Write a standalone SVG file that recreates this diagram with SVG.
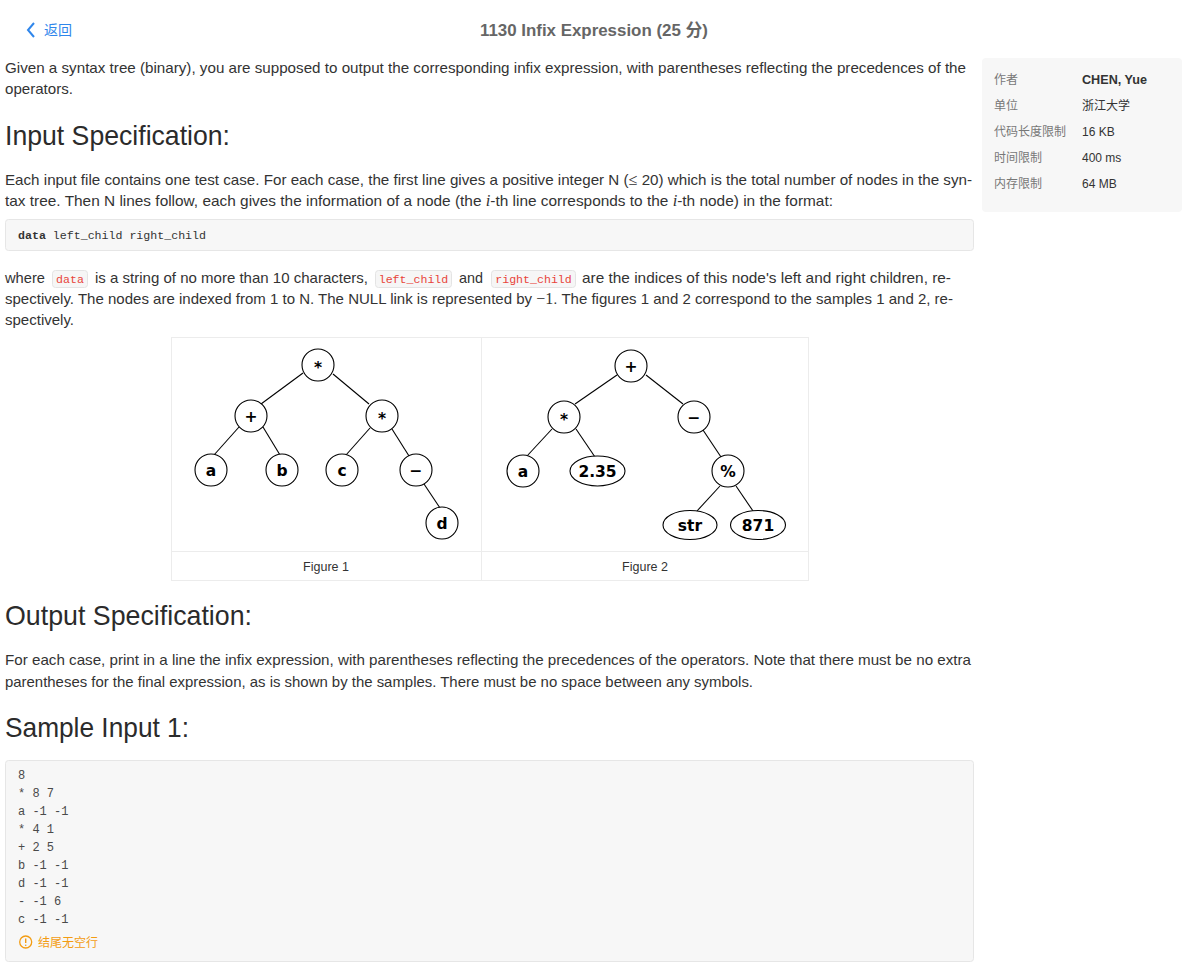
<svg xmlns="http://www.w3.org/2000/svg" width="1184" height="976" viewBox="0 0 1184 976">
<style>
.t{font-family:"Liberation Sans","Noto Sans CJK SC",sans-serif;font-size:15px;fill:#333}
.h{font-family:"Liberation Sans",sans-serif;font-size:28px;fill:#2b2b2b}
.mi{font-family:"Liberation Serif",serif;font-style:italic;font-size:16px}
.ms{font-family:"Liberation Serif",serif;font-size:16px}
.mono{font-family:"Liberation Mono",monospace;font-size:11.6px;fill:#333}
.smp{font-family:"Liberation Mono",monospace;font-size:12px;fill:#4a4a4a}
.ic{fill:#f6f6f6;stroke:#e4e4e4;stroke-width:1}
.ict{font-family:"Liberation Mono",monospace;font-size:11.6px;fill:#e8443a;text-anchor:middle}
.blk{fill:#f7f7f7;stroke:#e6e6e6;stroke-width:1}
.nd{fill:#fff;stroke:#000;stroke-width:1.1}
.nl{font-family:"DejaVu Sans",sans-serif;font-weight:bold;font-size:15.5px;text-anchor:middle;fill:#000}
.edge{stroke:#000;stroke-width:1.1;fill:none}
.sl{font-family:"Liberation Sans","Noto Sans CJK SC",sans-serif;font-size:12px;fill:#777}
.sv{font-family:"Liberation Sans","Noto Sans CJK SC",sans-serif;font-size:12px;fill:#333}
.cap{font-family:"Liberation Sans",sans-serif;font-size:12.5px;fill:#333;text-anchor:middle}
.tb{fill:none;stroke:#ececec;stroke-width:1}
</style>
<rect x="0" y="0" width="1184" height="976" fill="#fff"/>

<!-- header -->
<g id="back">
<polyline points="34,23 28,30 34,37" fill="none" stroke="#2f86eb" stroke-width="2"/>
<text x="44" y="35" font-family="'Noto Sans CJK SC',sans-serif" font-size="14" fill="#2f86eb">返回</text>
</g>
<text id="title" x="594" y="36" text-anchor="middle" font-family="'Liberation Sans','Noto Sans CJK SC',sans-serif" font-size="17" font-weight="bold" fill="#666" textLength="228" lengthAdjust="spacingAndGlyphs">1130 Infix Expression (25 分)</text>

<!-- sidebar -->
<g id="sidebar">
<rect x="982" y="58" width="200" height="154" rx="4" fill="#f7f7f7"/>
<text class="sl" x="994" y="84">作者</text>
<text class="sv" x="1082" y="84" font-weight="bold" textLength="65" lengthAdjust="spacingAndGlyphs">CHEN, Yue</text>
<text class="sl" x="994" y="110">单位</text>
<text class="sv" x="1082" y="110">浙江大学</text>
<text class="sl" x="994" y="136">代码长度限制</text>
<text class="sv" x="1082" y="136">16 KB</text>
<text class="sl" x="994" y="162">时间限制</text>
<text class="sv" x="1082" y="162">400 ms</text>
<text class="sl" x="994" y="188">内存限制</text>
<text class="sv" x="1082" y="188">64 MB</text>
</g>

<!-- intro -->
<text class="t" x="5" y="73" textLength="961" lengthAdjust="spacingAndGlyphs">Given a syntax tree (binary), you are supposed to output the corresponding infix expression, with parentheses reflecting the precedences of the</text>
<text class="t" x="5" y="94" textLength="68" lengthAdjust="spacingAndGlyphs">operators.</text>

<text class="h" x="5" y="145" textLength="225" lengthAdjust="spacingAndGlyphs">Input Specification:</text>

<text class="t" x="5" y="185" textLength="967" lengthAdjust="spacingAndGlyphs">Each input file contains one test case. For each case, the first line gives a positive integer N (<tspan class="ms">≤</tspan> 20) which is the total number of nodes in the syn-</text>
<text class="t" x="5" y="206" textLength="828" lengthAdjust="spacingAndGlyphs">tax tree. Then N lines follow, each gives the information of a node (the <tspan class="mi">i</tspan>-th line corresponds to the <tspan class="mi">i</tspan>-th node) in the format:</text>

<g id="format-block">
<rect class="blk" x="5.5" y="219.5" width="968" height="31" rx="3"/>
<text class="mono" x="18" y="239" textLength="188" lengthAdjust="spacingAndGlyphs"><tspan font-weight="bold">data</tspan> left_child right_child</text>
</g>

<text class="t" x="5" y="283" textLength="40" lengthAdjust="spacingAndGlyphs">where</text>
<rect class="ic" x="52.5" y="270.5" width="35" height="17" rx="3"/>
<text class="ict" x="70" y="283">data</text>
<text class="t" x="95" y="283" textLength="273" lengthAdjust="spacingAndGlyphs">is a string of no more than 10 characters,</text>
<rect class="ic" x="375.5" y="270.5" width="76" height="17" rx="3"/>
<text class="ict" x="413.5" y="283">left_child</text>
<text class="t" x="459" y="283" textLength="24" lengthAdjust="spacingAndGlyphs">and</text>
<rect class="ic" x="491.5" y="270.5" width="84" height="17" rx="3"/>
<text class="ict" x="533.5" y="283">right_child</text>
<text class="t" x="582" y="283" textLength="369" lengthAdjust="spacingAndGlyphs">are the indices of this node's left and right children, re-</text>
<text class="t" x="5" y="304" textLength="948" lengthAdjust="spacingAndGlyphs">spectively. The nodes are indexed from 1 to N. The NULL link is represented by <tspan class="ms">−1</tspan>. The figures 1 and 2 correspond to the samples 1 and 2, re-</text>
<text class="t" x="5" y="325" textLength="69" lengthAdjust="spacingAndGlyphs">spectively.</text>

<!-- figure table -->
<g id="figure-table">
<rect class="tb" x="171.5" y="337.5" width="637" height="243"/>
<line class="tb" x1="481.5" y1="337.5" x2="481.5" y2="580.5"/>
<line class="tb" x1="171.5" y1="551.5" x2="808.5" y2="551.5"/>
<text class="cap" x="326" y="571">Figure 1</text>
<text class="cap" x="645" y="571">Figure 2</text>
</g>

<g id="connectors">
<line class="edge" x1="303" y1="373" x2="261" y2="404"/>
<line class="edge" x1="333" y1="374" x2="369" y2="404"/>
<line class="edge" x1="239" y1="427" x2="214" y2="455"/>
<line class="edge" x1="263" y1="427" x2="280" y2="455"/>
<line class="edge" x1="370" y1="428" x2="346" y2="455"/>
<line class="edge" x1="392" y1="429" x2="409" y2="456"/>
<line class="edge" x1="424" y1="484" x2="440" y2="508"/>
<line class="edge" x1="617" y1="375" x2="575" y2="404"/>
<line class="edge" x1="646" y1="375" x2="683" y2="404"/>
<line class="edge" x1="552" y1="429" x2="527" y2="456"/>
<line class="edge" x1="576" y1="429" x2="595" y2="457"/>
<line class="edge" x1="703" y1="430" x2="721" y2="457"/>
<line class="edge" x1="720" y1="486" x2="697" y2="511"/>
<line class="edge" x1="736" y1="486" x2="753" y2="511"/>
</g>

<!-- Figure 1 nodes -->
<g id="f1-root"><circle class="nd" cx="318" cy="365" r="16"/><text class="nl" x="318" y="373">*</text></g>
<g id="f1-plus"><circle class="nd" cx="251" cy="416" r="16"/><text class="nl" x="251" y="421.5">+</text></g>
<g id="f1-star"><circle class="nd" cx="382" cy="416" r="16"/><text class="nl" x="382" y="424">*</text></g>
<g id="f1-a"><circle class="nd" cx="211" cy="470" r="16"/><text class="nl" x="211" y="475.5">a</text></g>
<g id="f1-b"><circle class="nd" cx="282" cy="470" r="16"/><text class="nl" x="282" y="475.5">b</text></g>
<g id="f1-c"><circle class="nd" cx="342" cy="470" r="16"/><text class="nl" x="342" y="475.5">c</text></g>
<g id="f1-minus"><circle class="nd" cx="416" cy="470" r="16"/><text class="nl" x="416" y="475.5">−</text></g>
<g id="f1-d"><circle class="nd" cx="442" cy="523" r="16"/><text class="nl" x="442" y="528.5">d</text></g>

<!-- Figure 2 nodes -->
<g id="f2-plus"><circle class="nd" cx="631" cy="366" r="16"/><text class="nl" x="631" y="371.5">+</text></g>
<g id="f2-star"><circle class="nd" cx="564" cy="417" r="16"/><text class="nl" x="564" y="425">*</text></g>
<g id="f2-minus"><circle class="nd" cx="694" cy="417" r="16"/><text class="nl" x="694" y="422.5">−</text></g>
<g id="f2-a"><circle class="nd" cx="523" cy="471" r="16"/><text class="nl" x="523" y="476.5">a</text></g>
<g id="f2-235"><ellipse class="nd" cx="597.5" cy="471" rx="27.5" ry="15"/><text class="nl" x="597.5" y="476.5">2.35</text></g>
<g id="f2-mod"><circle class="nd" cx="728" cy="471" r="16"/><text class="nl" x="728" y="476.5">%</text></g>
<g id="f2-str"><ellipse class="nd" cx="690" cy="525" rx="27" ry="14.5"/><text class="nl" x="690" y="530.5">str</text></g>
<g id="f2-871"><ellipse class="nd" cx="758" cy="525" rx="27.5" ry="14.5"/><text class="nl" x="758" y="530.5">871</text></g>

<!-- output spec -->
<text class="h" x="5" y="625" textLength="247" lengthAdjust="spacingAndGlyphs">Output Specification:</text>
<text class="t" x="5" y="665" textLength="966" lengthAdjust="spacingAndGlyphs">For each case, print in a line the infix expression, with parentheses reflecting the precedences of the operators. Note that there must be no extra</text>
<text class="t" x="5" y="687" textLength="748" lengthAdjust="spacingAndGlyphs">parentheses for the final expression, as is shown by the samples. There must be no space between any symbols.</text>

<text class="h" x="5" y="737" textLength="184" lengthAdjust="spacingAndGlyphs">Sample Input 1:</text>

<g id="sample-input">
<rect class="blk" x="5.5" y="760.5" width="968" height="201" rx="3"/>
<text class="smp" x="18" y="779">8</text>
<text class="smp" x="18" y="797">* 8 7</text>
<text class="smp" x="18" y="815">a -1 -1</text>
<text class="smp" x="18" y="833">* 4 1</text>
<text class="smp" x="18" y="851">+ 2 5</text>
<text class="smp" x="18" y="869">b -1 -1</text>
<text class="smp" x="18" y="887">d -1 -1</text>
<text class="smp" x="18" y="905">- -1 6</text>
<text class="smp" x="18" y="923">c -1 -1</text>
<circle cx="25.7" cy="942" r="6" fill="none" stroke="#f39c12" stroke-width="1.3"/>
<line x1="25.7" y1="938.5" x2="25.7" y2="943" stroke="#f39c12" stroke-width="1.4"/>
<circle cx="25.7" cy="945.2" r="0.8" fill="#f39c12"/>
<text x="38" y="946.5" font-family="'Noto Sans CJK SC',sans-serif" font-size="12" fill="#f39c12">结尾无空行</text>
</g>
</svg>
